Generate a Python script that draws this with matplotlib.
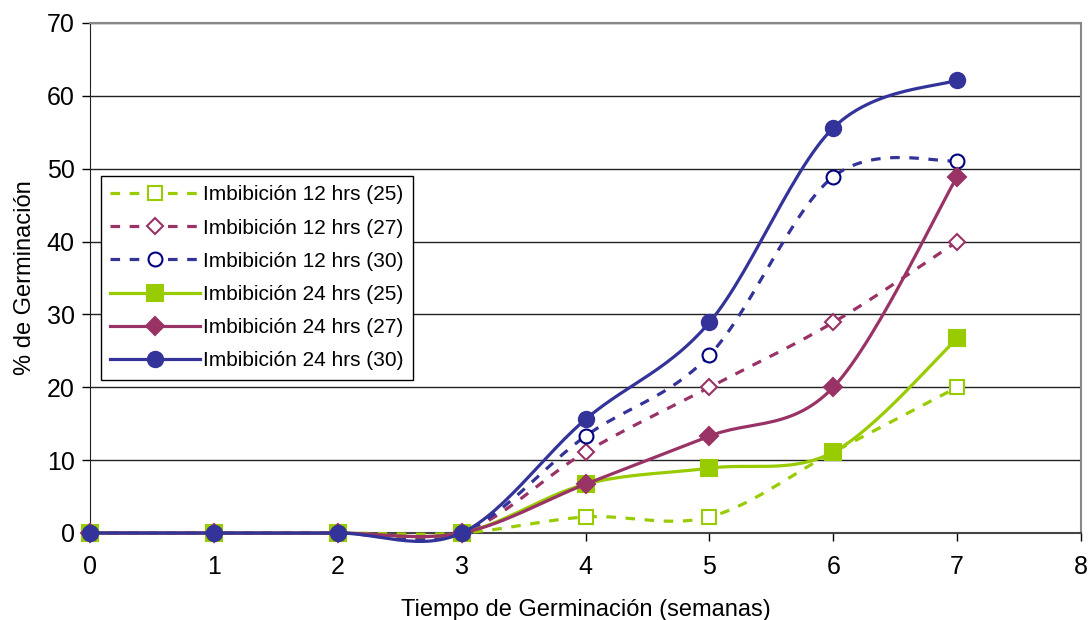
import numpy as np
import matplotlib
matplotlib.use("Agg")
import matplotlib.pyplot as plt

plt.rcParams["font.family"] = ["Liberation Sans", "DejaVu Sans"]

# semanas de germinación
semanas = [0, 1, 2, 3, 4, 5, 6, 7]

# % de germinación por tratamiento
imb12_25 = [0, 0, 0, 0, 2.2, 2.2, 11.1, 20.0]
imb12_27 = [0, 0, 0, 0, 11.1, 20.0, 28.9, 40.0]
imb12_30 = [0, 0, 0, 0, 13.3, 24.4, 48.9, 51.1]
imb24_25 = [0, 0, 0, 0, 6.7, 8.9, 11.1, 26.7]
imb24_27 = [0, 0, 0, 0, 6.7, 13.3, 20.0, 48.9]
imb24_30 = [0, 0, 0, 0, 15.6, 28.9, 55.6, 62.2]

etiquetas = [
    "Imbibición 12 hrs (25)",
    "Imbibición 12 hrs (27)",
    "Imbibición 12 hrs (30)",
    "Imbibición 24 hrs (25)",
    "Imbibición 24 hrs (27)",
    "Imbibición 24 hrs (30)",
]

VERDE = "#99CC00"
GRANATE = "#993366"
AZUL = "#333399"


def suavizar(x, y, n=30):
    """Curva suavizada tipo Bezier (Catmull-Rom) que pasa por los puntos."""
    x = np.asarray(x, float)
    y = np.asarray(y, float)
    px = np.concatenate([[x[0]], x, [x[-1]]])
    py = np.concatenate([[y[0]], y, [y[-1]]])
    t = np.linspace(0, 1, n)
    xs, ys = [], []
    for i in range(1, len(px) - 2):
        p0 = np.array([px[i], py[i]])
        p3 = np.array([px[i + 1], py[i + 1]])
        c1 = p0 + (np.array([px[i + 1], py[i + 1]]) - np.array([px[i - 1], py[i - 1]])) / 6
        c2 = p3 - (np.array([px[i + 2], py[i + 2]]) - np.array([px[i], py[i]])) / 6
        b = ((1 - t) ** 3)[:, None] * p0 + (3 * (1 - t) ** 2 * t)[:, None] * c1 \
            + (3 * (1 - t) * t ** 2)[:, None] * c2 + (t ** 3)[:, None] * p3
        xs.append(b[:, 0])
        ys.append(b[:, 1])
    return np.concatenate(xs), np.concatenate(ys)


fig = plt.figure(figsize=(10.89, 6.20), dpi=100)
ax = fig.add_axes([90 / 1089, 87 / 620, 991 / 1089, 510 / 620])

series = [
    (imb12_25, VERDE, "--", "s", "white", VERDE, 10),
    (imb12_27, GRANATE, "--", "D", "white", GRANATE, 8.5),
    (imb12_30, AZUL, "--", "o", "white", "#000080", 10),
    (imb24_25, VERDE, "-", "s", VERDE, VERDE, 11),
    (imb24_27, GRANATE, "-", "D", GRANATE, GRANATE, 9),
    (imb24_30, AZUL, "-", "o", AZUL, AZUL, 11),
]

handles = []
for k, (vals, color, ls, mk, mfc, mec, ms) in enumerate(series):
    sx, sy = suavizar(semanas, vals)
    dash = (3, 3) if ls == "--" else (None, None)
    ax.plot(sx, sy, color=color, ls=ls, lw=2.3, zorder=3 + k,
            dashes=dash, solid_capstyle="round", clip_on=False)
    ax.plot(semanas, vals, ls="none", marker=mk, ms=ms, mfc=mfc, mec=mec,
            mew=1.5, zorder=3 + k, clip_on=False)
    h, = ax.plot([], [], color=color, ls=ls, lw=2.3, marker=mk, ms=ms,
                 mfc=mfc, mec=mec, mew=1.5, dashes=dash)
    handles.append(h)

ax.set_xlim(0, 8)
ax.set_ylim(0, 70)
ax.set_xticks(range(0, 9))
ax.set_yticks(range(0, 71, 10))
ax.tick_params(direction="out", length=6, width=1, labelsize=18, colors="black")
ax.tick_params(axis="x", pad=10)
ax.tick_params(axis="y", pad=5)
ax.yaxis.grid(True, color="#222222", lw=1)
ax.set_axisbelow(True)

for lado in ["top", "right"]:
    ax.spines[lado].set_color("#888888")
    ax.spines[lado].set_linewidth(1.5)
ax.spines["left"].set_color("#222222")
ax.spines["bottom"].set_color("#444444")
ax.spines["bottom"].set_linewidth(1.5)

ax.set_xlabel("Tiempo de Germinación (semanas)", fontsize=17, labelpad=14)
ax.set_ylabel("% de Germinación", fontsize=17, labelpad=8)

leg = ax.legend(handles, etiquetas, loc="upper left",
                bbox_to_anchor=(101 / 1089, 1 - 176 / 620),
                bbox_transform=fig.transFigure, fontsize=15, frameon=True,
                fancybox=False, edgecolor="black", framealpha=1,
                handlelength=4.3, handletextpad=0.15, labelspacing=0.68,
                borderpad=0.45, borderaxespad=0)
leg.get_frame().set_linewidth(1)
leg.set_zorder(20)

fig.savefig("out.png", dpi=100)
